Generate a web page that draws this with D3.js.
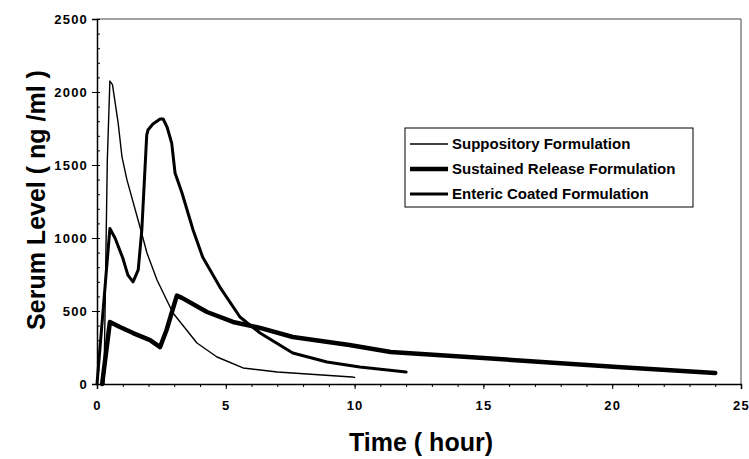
<!DOCTYPE html>
<html>
<head>
<meta charset="utf-8">
<script src="https://cdn.jsdelivr.net/npm/d3@7"></script>
<style>
  body { margin: 0; background: #fff; }
  text { font-family: "Liberation Sans", Arial, sans-serif; font-weight: bold; fill: #000; }
</style>
</head>
<body>
<svg id="chart"></svg>
<script>
// values (hours, ng/ml)
const suppTime = [0.27, 0.4, 0.5, 0.6, 0.82, 0.97, 1.16, 1.67, 1.94, 2.33, 2.95, 3.88, 4.66, 5.67, 7, 9.9, 10]
const suppLevel = [0, 1530, 2075, 2050, 1790, 1555, 1400, 1075, 897, 712, 486, 281, 185, 110, 82, 48, 45]

const sustTime = [0.2, 0.5, 0.89, 1.4, 2.06, 2.45, 2.7, 3.1, 3.3, 4.27, 5.28, 6.33, 7.6, 9.8, 11.4, 15, 20.2, 24]
const sustLevel = [0, 425, 390, 349, 301, 253, 370, 605, 590, 493, 425, 384, 322, 267, 219, 178, 116, 75]

const entTime = [0, 0.5, 0.7, 1.0, 1.2, 1.4, 1.6, 1.74, 1.93, 1.98, 2.17, 2.45, 2.57, 2.72, 2.9, 3.03, 3.3, 3.73, 4.1, 4.77, 5.55, 6.33, 7.6, 8.93, 10.2, 12]
const entLevel = [0, 1065, 1000, 863, 746, 700, 781, 1055, 1705, 1740, 1781, 1815, 1815, 1760, 1650, 1445, 1308, 1055, 870, 664, 459, 349, 212, 151, 116, 82]

const seriesNames = ["Suppository Formulation", "Sustained Release Formulation", "Enteric Coated Formulation"]
const xTicks = [0, 5, 10, 15, 20, 25]
const yTicks = [0, 500, 1000, 1500, 2000, 2500]

const width = 749, height = 459
const margin = {top: 19, right: 8, bottom: 75, left: 97}

const svg = d3.select("#chart").attr("width", width).attr("height", height)

const x = d3.scaleLinear().domain([0, 25]).range([margin.left, width - margin.right])
const y = d3.scaleLinear().domain([0, 2500]).range([height - margin.bottom, margin.top])

// frame top / right
svg.append("line")
  .attr("x1", x(0)).attr("x2", x(25)).attr("y1", y(2500)).attr("y2", y(2500))
  .attr("stroke", "#444").attr("stroke-width", 1)
svg.append("line")
  .attr("x1", x(25)).attr("x2", x(25)).attr("y1", y(2500)).attr("y2", y(0))
  .attr("stroke", "#444").attr("stroke-width", 1)

// minor ticks
svg.append("g")
  .attr("transform", `translate(0,${y(0)})`)
  .call(d3.axisBottom(x).tickValues(d3.range(0, 26, 1)).tickSize(3).tickFormat(""))
  .call(g => g.select(".domain").remove())
svg.append("g")
  .attr("transform", `translate(${x(0)},0)`)
  .call(d3.axisRight(y).tickValues(d3.range(0, 2501, 100)).tickSize(3).tickFormat(""))
  .call(g => g.select(".domain").remove())

// main axes
const xAxis = svg.append("g")
  .attr("transform", `translate(0,${y(0)})`)
  .call(d3.axisBottom(x).tickValues(xTicks).tickFormat(d3.format("d")).tickSize(5).tickPadding(12))
xAxis.select(".domain").attr("stroke-width", 1.5)
xAxis.selectAll("text").style("font-size", "13px").style("letter-spacing", "1.2px")

const yAxis = svg.append("g")
  .attr("transform", `translate(${x(0)},0)`)
  .call(d3.axisLeft(y).tickValues(yTicks).tickFormat(d3.format("d")).tickSize(5).tickPadding(4))
yAxis.select(".domain").attr("stroke-width", 1.5)
yAxis.selectAll("text").style("font-size", "13px").style("letter-spacing", "1.2px")

svg.selectAll(".tick line").attr("stroke", "#000")

// axis titles
svg.append("text")
  .attr("x", 421).attr("y", 451)
  .attr("text-anchor", "middle")
  .style("font-size", "25px")
  .text("Time ( hour)")
svg.append("text")
  .attr("transform", "translate(45,200) rotate(-90)")
  .attr("text-anchor", "middle")
  .style("font-size", "25px")
  .text("Serum Level ( ng /ml )")

// curves
const line = d3.line().x(d => x(d[0])).y(d => y(d[1]))
const series = [
  {name: seriesNames[0], pts: d3.zip(suppTime, suppLevel), w: 1.4},
  {name: seriesNames[1], pts: d3.zip(sustTime, sustLevel), w: 4.5},
  {name: seriesNames[2], pts: d3.zip(entTime, entLevel), w: 3}
]
svg.append("g").selectAll("path")
  .data(series)
  .enter()
  .append("path")
  .attr("d", d => line(d.pts))
  .attr("fill", "none")
  .attr("stroke", "#000")
  .attr("stroke-width", d => d.w)
  .attr("stroke-linejoin", "round")
  .attr("stroke-linecap", "round")

// legend
const legend = svg.append("g")
legend.append("rect")
  .attr("x", 405).attr("y", 128).attr("width", 288).attr("height", 79)
  .attr("fill", "#fff").attr("stroke", "#000").attr("stroke-width", 1)
const item = legend.selectAll(".item")
  .data(series)
  .enter()
  .append("g")
  .attr("class", "item")
  .attr("transform", (d, i) => `translate(410,${144 + i * 25})`)
item.append("line")
  .attr("x1", 0).attr("x2", 38)
  .attr("stroke", "#000")
  .attr("stroke-width", d => d.w)
item.append("text")
  .attr("x", 42).attr("dy", "0.35em")
  .style("font-size", "15px")
  .text(d => d.name)
</script>
</body>
</html>
